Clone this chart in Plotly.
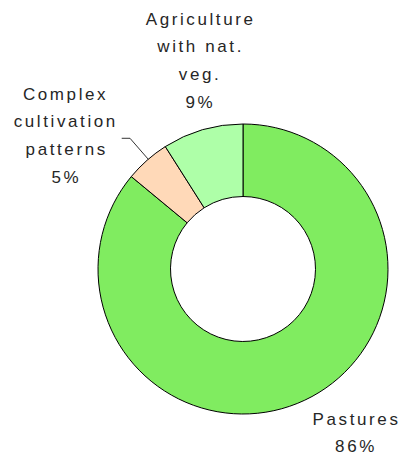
import plotly.graph_objects as go

# ---- data ----
categories = ["Pastures", "Complex cultivation patterns", "Agriculture with nat. veg."]
values = [86, 5, 9]
label_lines = [["Pastures"], ["Complex", "cultivation", "patterns"], ["Agriculture", "with nat.", "veg."]]
colors = ["#80EC60", "#FFD9B8", "#AEFFA8"]

W, H = 403, 457

fig = go.Figure(go.Pie(
    labels=categories,
    values=values,
    sort=False,
    direction="clockwise",
    rotation=0,
    hole=0.5,
    marker=dict(colors=colors, line=dict(color="#000000", width=1)),
    textinfo="none",
    hoverinfo="label+percent",
    showlegend=False,
    domain=dict(x=[98 / W, 388 / W], y=[(H - 414) / H, (H - 124) / H]),
))

# label block anchors (pixel centres of the text blocks, baseline of first line)
label_pos = [(356, 425), (66, 100), (200, 25)]
line_step = 27.7
total = sum(values)
annotations = []
for lines, v, (cx, by) in zip(label_lines, values, label_pos):
    texts = lines + [f"{round(100 * v / total)}%"]
    for i, t in enumerate(texts):
        py = by + i * line_step - 6
        annotations.append(dict(
            x=cx / W, y=1 - py / H, xref="paper", yref="paper",
            text=t, showarrow=False, xanchor="center", yanchor="middle",
            font=dict(family="Liberation Sans, Arial, sans-serif", size=17, color="#262626"),
        ))

leader = [(121.7, 138.3), (130, 138.3), (148.3, 159.3)]
path = "M " + " L ".join(f"{x / W:.4f},{1 - y / H:.4f}" for x, y in leader)

fig.update_layout(
    width=W, height=H,
    margin=dict(l=0, r=0, t=0, b=0),
    paper_bgcolor="white",
    plot_bgcolor="white",
    annotations=annotations,
    shapes=[dict(type="path", xref="paper", yref="paper", path=path,
                 line=dict(color="#333333", width=1))],
)

post = """
document.body.style.margin='0'; document.body.style.padding='0';
function ls(){document.querySelectorAll('.annotation-text').forEach(function(e){e.style.letterSpacing='2.6px';});}
ls(); setTimeout(ls, 0); setTimeout(ls, 100);
var gd=document.getElementById('{plot_id}'); if(gd && gd.on){gd.on('plotly_afterplot', ls);}
"""
fig.write_html("out.html", post_script=post, config={"displayModeBar": False})
